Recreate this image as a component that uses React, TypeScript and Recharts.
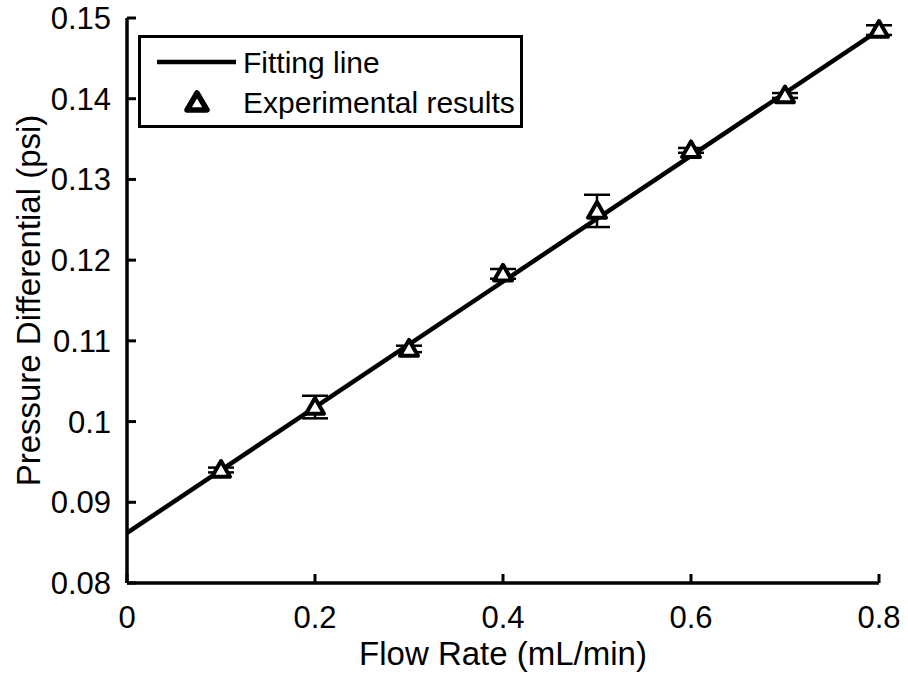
import React from 'react';
import { ComposedChart, Line, Scatter, ErrorBar, XAxis, YAxis, Legend } from 'recharts';

// experimental points (flow rate in mL/min, pressure differential in psi)
const flowRates = [0.1, 0.2, 0.3, 0.4, 0.5, 0.6, 0.7, 0.8];
const pressureDiffs = [0.094, 0.1018, 0.109, 0.1183, 0.1261, 0.1336, 0.1404, 0.1485];
const pressureErrors = [0.0003, 0.0014, 0.0004, 0.0006, 0.002, 0.0003, 0.0003, 0.0006];

// linear fit end points
const fitX = [0, 0.8];
const fitY = [0.0862, 0.1485];

const xTicks = [0, 0.2, 0.4, 0.6, 0.8];
const yTicks = [0.08, 0.09, 0.1, 0.11, 0.12, 0.13, 0.14, 0.15];

const expData = flowRates.map((x, i) => ({ x, y: pressureDiffs[i], err: pressureErrors[i] }));
const fitData = fitX.map((x, i) => ({ x, y: fitY[i] }));

const FONT = '"Liberation Sans", Arial, Helvetica, sans-serif';
const fmt = (v: number) => String(+v.toFixed(2));

const Triangle = (props: any) => {
  const { cx, cy } = props;
  if (cx == null || cy == null) return null;
  const s = 9;
  return (
    <polygon
      points={`${cx},${cy - s} ${cx + s},${cy + s * 0.75} ${cx - s},${cy + s * 0.75}`}
      fill="#fff"
      stroke="#000"
      strokeWidth={4}
      strokeLinejoin="round"
    />
  );
};

const LegendBox = () => (
  <div
    style={{
      width: 379,
      height: 87,
      border: '3px solid #000',
      background: '#fff',
    }}
  >
    <svg width={379} height={87} style={{ display: 'block', fontFamily: FONT }}>
      <line x1={16} x2={95} y1={24} y2={24} stroke="#000" strokeWidth={4.5} />
      <text x={102} y={35} fontSize={30} fill="#000">Fitting line</text>
      <polygon
        points="56,55 66,72 46,72"
        fill="#fff"
        stroke="#000"
        strokeWidth={5.5}
        strokeLinejoin="round"
      />
      <text x={102} y={75} fontSize={30} fill="#000">Experimental results</text>
    </svg>
  </div>
);

const App: React.FC = () => {
  return (
    <div style={{ position: 'fixed', left: 0, top: 0, width: 908, height: 677, background: '#fff' }}>
      <ComposedChart
        width={908}
        height={677}
        margin={{ top: 18, right: 29, left: 0, bottom: 0 }}
        style={{ fontFamily: FONT }}
      >
        <XAxis
          dataKey="x"
          type="number"
          domain={[0, 0.8]}
          ticks={xTicks}
          tickFormatter={fmt}
          height={94}
          tickSize={-9}
          tickMargin={32}
          tick={{ fontSize: 31, fill: '#000' }}
          tickLine={{ stroke: '#000', strokeWidth: 3 }}
          axisLine={{ stroke: '#000', strokeWidth: 3.5 }}
          label={{ value: 'Flow Rate (mL/min)', position: 'insideBottom', offset: 12, fontSize: 33, fill: '#000' }}
        />
        <XAxis
          xAxisId="top"
          orientation="top"
          type="number"
          domain={[0, 0.8]}
          ticks={xTicks}
          tickFormatter={() => ''}
          height={0}
          tickSize={-9}
          tickLine={{ stroke: '#000', strokeWidth: 3 }}
          axisLine={{ stroke: '#000', strokeWidth: 3.5 }}
        />
        <YAxis
          type="number"
          domain={[0.08, 0.15]}
          ticks={yTicks}
          tickFormatter={fmt}
          width={127}
          tickSize={-9}
          tickMargin={25}
          tick={{ fontSize: 31, fill: '#000' }}
          tickLine={{ stroke: '#000', strokeWidth: 3 }}
          axisLine={{ stroke: '#000', strokeWidth: 3.5 }}
          label={{
            value: 'Pressure Differential (psi)',
            angle: -90,
            position: 'insideLeft',
            offset: 28,
            fontSize: 33,
            fill: '#000',
            style: { textAnchor: 'middle' },
          }}
        />
        <YAxis
          yAxisId="right"
          orientation="right"
          type="number"
          domain={[0.08, 0.15]}
          ticks={yTicks}
          tickFormatter={() => ''}
          width={0}
          tickSize={-9}
          tickLine={{ stroke: '#000', strokeWidth: 3 }}
          axisLine={{ stroke: '#000', strokeWidth: 3.5 }}
        />
        <Legend
          layout="vertical"
          align="center"
          verticalAlign="middle"
          wrapperStyle={{ left: 138, top: 35, width: 'auto' }}
          content={() => <LegendBox />}
        />
        <Line
          data={fitData}
          dataKey="y"
          type="linear"
          stroke="#000"
          strokeWidth={4.5}
          dot={false}
          activeDot={false}
          legendType="line"
          name="Fitting line"
          isAnimationActive={false}
        />
        <Scatter
          data={expData}
          dataKey="y"
          shape={Triangle}
          name="Experimental results"
          isAnimationActive={false}
        >
          <ErrorBar dataKey="err" direction="y" width={13} stroke="#000" strokeWidth={2.5} />
        </Scatter>
      </ComposedChart>
    </div>
  );
};

export default App;
